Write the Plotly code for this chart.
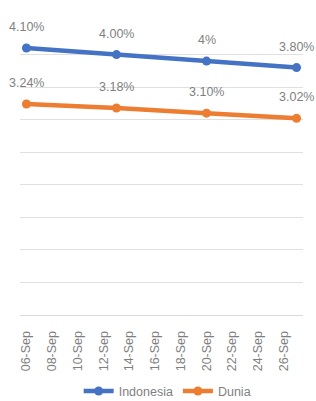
import plotly.graph_objects as go

dates = ["2021-09-06", "2021-09-13", "2021-09-20", "2021-09-27"]
indonesia = [4.10, 4.00, 3.90, 3.80]
indonesia_labels = ["4.10%", "4.00%", "4%", "3.80%"]
dunia = [3.24, 3.18, 3.10, 3.02]
dunia_labels = ["3.24%", "3.18%", "3.10%", "3.02%"]
tick_dates = ["2021-09-%02d" % d for d in range(6, 27, 2)]
tick_labels = ["%02d-Sep" % d for d in range(6, 27, 2)]

BLUE = "#4472C4"
ORANGE = "#ED7D31"
TXT = "#7F7F7F"
FONT = "Liberation Sans"
FS = 12.5

fig = go.Figure()
fig.add_trace(go.Scatter(x=dates, y=indonesia, name="Indonesia", mode="lines+markers",
                         line=dict(color=BLUE, width=4.5), marker=dict(size=9, color=BLUE)))
fig.add_trace(go.Scatter(x=dates, y=dunia, name="Dunia", mode="lines+markers",
                         line=dict(color=ORANGE, width=4.5), marker=dict(size=9, color=ORANGE)))

for xs, ys, labs in [(dates, indonesia, indonesia_labels), (dates, dunia, dunia_labels)]:
    for x, y, t in zip(xs, ys, labs):
        fig.add_annotation(x=x, y=y, text=t, showarrow=False, yshift=21,
                           font=dict(family=FONT, size=FS, color=TXT))

fig.update_layout(
    width=316, height=401,
    margin=dict(l=20, r=13, t=22, b=86),
    paper_bgcolor="white", plot_bgcolor="white",
    font=dict(family=FONT, size=FS, color=TXT),
    showlegend=True,
    legend=dict(orientation="h", x=0.52, xanchor="center", yref="container",
                y=0.024, yanchor="middle",
                font=dict(family=FONT, size=FS, color=TXT)),
    xaxis=dict(type="date", range=["2021-09-05 12:00", "2021-09-27 12:00"],
               tickvals=tick_dates, ticktext=tick_labels, tickangle=-90,
               showgrid=False, showline=True, linecolor="#D9D9D9", linewidth=1,
               ticks="", ticklabelstandoff=10, zeroline=False, automargin=False,
               tickfont=dict(family=FONT, size=FS, color=TXT)),
    yaxis=dict(range=[0, 4.5], dtick=0.5, showticklabels=False, showgrid=True,
               automargin=False,
               gridcolor="#E0E0E0", gridwidth=1, zeroline=False, showline=False, ticks=""),
)

fig.write_html("out.html", config={"displayModeBar": False},
               post_script="document.body.style.margin='0';document.body.style.overflow='hidden';")
